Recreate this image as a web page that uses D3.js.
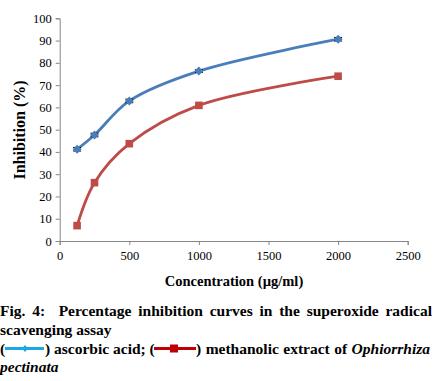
<!DOCTYPE html>
<html>
<head>
<meta charset="utf-8">
<style>
html, body { margin: 0; padding: 0; background: #fff; }
svg { display: block; }
</style>
</head>
<body>
<svg width="435" height="381" font-family="Liberation Serif"></svg>
<script src="https://d3js.org/d3.v7.min.js"></script>
<script>
// data
var concentrations = [125, 250, 500, 1000, 2000];
var ascorbic = [41.2, 47.6, 62.9, 76.3, 90.6];
var ascorbicErr = [0.8, 0.8, 0.8, 0.6, 0.8];
var extract = [6.9, 26.2, 43.7, 60.9, 74.0];
var xTicks = [0, 500, 1000, 1500, 2000, 2500];
var yTicks = [0, 10, 20, 30, 40, 50, 60, 70, 80, 90, 100];

var FONT = "Liberation Serif";
var svg = d3.select("svg");

var x = d3.scaleLinear().domain([0, 2500]).range([59.7, 407.7]);
var y = d3.scaleLinear().domain([0, 100]).range([241, 18.3]);

var axisColor = "#868686";

// y axis
var gy = svg.append("g")
    .attr("transform", "translate(" + x(0) + ",0)")
    .call(d3.axisLeft(y).tickValues(yTicks).tickFormat(d3.format("d")).tickSize(4).tickPadding(4))
    .attr("font-family", FONT)
    .attr("font-size", 12.5);
gy.select(".domain").attr("stroke", axisColor).attr("stroke-width", 1);
gy.selectAll(".tick line").attr("stroke", axisColor);
gy.selectAll(".tick text").attr("fill", "#000").attr("font-family", FONT);

// x axis
var gx = svg.append("g")
    .attr("transform", "translate(0," + y(0) + ")")
    .call(d3.axisBottom(x).tickValues(xTicks).tickFormat(d3.format("d")).tickSize(4).tickPadding(6))
    .attr("font-family", FONT)
    .attr("font-size", 12.5);
gx.select(".domain").attr("stroke", axisColor).attr("stroke-width", 1);
gx.selectAll(".tick line").attr("stroke", axisColor);
gx.selectAll(".tick text").attr("fill", "#000").attr("font-family", FONT);

// axis titles
svg.append("text")
    .attr("transform", "translate(25,130) rotate(-90)")
    .attr("text-anchor", "middle")
    .attr("font-family", FONT)
    .attr("font-size", 16)
    .attr("font-weight", "bold")
    .text("Inhibition (%)");

svg.append("text")
    .attr("x", 234)
    .attr("y", 286)
    .attr("text-anchor", "middle")
    .attr("font-family", FONT)
    .attr("font-size", 14.5)
    .attr("font-weight", "bold")
    .text("Concentration (\u00b5g/ml)");

// series
var line = d3.line()
    .x(function(d) { return x(d[0]); })
    .y(function(d) { return y(d[1]); })
    .curve(d3.curveCatmullRom.alpha(0.5));

var blue = "#4a7ebb", red = "#be4b48";

var blueData = d3.zip(concentrations, ascorbic);
var redData = d3.zip(concentrations, extract);

svg.append("path").datum(blueData)
    .attr("fill", "none").attr("stroke", blue).attr("stroke-width", 2.8)
    .attr("d", line);
svg.append("path").datum(redData)
    .attr("fill", "none").attr("stroke", red).attr("stroke-width", 2.8)
    .attr("d", line);

// error bars on ascorbic acid
var eb = svg.append("g").attr("stroke", "#000").attr("stroke-width", 1);
concentrations.forEach(function(c, i) {
  var cx = x(c), lo = y(ascorbic[i] - ascorbicErr[i]), hi = y(ascorbic[i] + ascorbicErr[i]);
  eb.append("line").attr("x1", cx).attr("x2", cx).attr("y1", lo).attr("y2", hi);
  eb.append("line").attr("x1", cx - 4).attr("x2", cx + 4).attr("y1", lo).attr("y2", lo);
  eb.append("line").attr("x1", cx - 4).attr("x2", cx + 4).attr("y1", hi).attr("y2", hi);
});

// markers
svg.selectAll(".diamond").data(blueData).enter().append("path")
    .attr("transform", function(d) { return "translate(" + x(d[0]) + "," + y(d[1]) + ")"; })
    .attr("d", "M0,-4.5L4.5,0L0,4.5L-4.5,0Z")
    .attr("fill", blue);
svg.selectAll(".square").data(redData).enter().append("rect")
    .attr("x", function(d) { return x(d[0]) - 3.8; })
    .attr("y", function(d) { return y(d[1]) - 3.8; })
    .attr("width", 7.6).attr("height", 7.6)
    .attr("fill", red);

// caption
var cap = svg.append("g");

function capText(xp, yp) {
  return cap.append("text").attr("x", xp).attr("y", yp)
      .attr("font-family", FONT).attr("font-size", 15.5).attr("font-weight", "bold");
}

function justify(t, width) {
  var len = t.node().getComputedTextLength();
  var txt = t.text();
  var spaces = (txt.match(/ /g) || []).length;
  if (spaces > 0) t.attr("word-spacing", ((width - len) / spaces).toFixed(2));
}

var l1 = capText(0, 316)
    .attr("xml:space", "preserve")
    .text("Fig. 4:  Percentage inhibition curves in the superoxide radical");
justify(l1, 432);

capText(0, 334.5).text("scavenging assay");

// line 3 with inline legend glyphs
var ly = 353.5;
var lightBlue = "#1ea6e6", darkRed = "#c00000";
capText(0, ly).text("(");
cap.append("line").attr("x1", 5).attr("x2", 44).attr("y1", ly - 5).attr("y2", ly - 5)
    .attr("stroke", lightBlue).attr("stroke-width", 2.8);
cap.append("path").attr("transform", "translate(25," + (ly - 5) + ")")
    .attr("d", "M0,-3.5L3,0L0,3.5L-3,0Z").attr("fill", lightBlue);
capText(45, ly).text(") ascorbic acid; (");
cap.append("line").attr("x1", 154).attr("x2", 196).attr("y1", ly - 5).attr("y2", ly - 5)
    .attr("stroke", darkRed).attr("stroke-width", 2.8);
cap.append("rect").attr("x", 170).attr("y", ly - 9).attr("width", 8).attr("height", 8)
    .attr("fill", darkRed);
var l3 = capText(196, ly);
l3.append("tspan").text(") methanolic extract of ");
l3.append("tspan").attr("font-style", "italic").text("Ophiorrhiza");
var l3len = l3.node().getComputedTextLength();
if (l3len < 234) l3.attr("word-spacing", ((234 - l3len) / 4).toFixed(2));

capText(0, 372).attr("font-style", "italic").text("pectinata");
</script>
</body>
</html>
